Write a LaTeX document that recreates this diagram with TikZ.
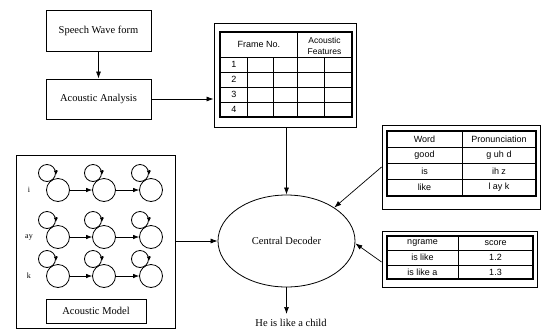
\documentclass[tikz,border=0pt]{standalone}
\usepackage{fontspec}
\setmainfont{Liberation Serif}
\setsansfont{Liberation Sans}
\usetikzlibrary{arrows.meta,calc,shapes.geometric}
\begin{document}
\begin{tikzpicture}[x=1pt,y=-1pt,
  box/.style={draw,line width=0.9pt,inner sep=0pt,font=\fontsize{10.5}{12}\selectfont},
  frame/.style={draw,line width=0.9pt,inner sep=0pt},
  grid/.style={line width=0.9pt},
  tabtxt/.style={font=\sffamily\fontsize{9}{11}\selectfont,inner sep=0pt},
  arr/.style={-{Latex[length=7pt,width=5pt]},line width=0.7pt},
  big/.style={circle,draw,line width=0.8pt,minimum size=23pt,inner sep=0pt},
  small/.style={circle,draw,line width=0.8pt,minimum size=17pt,inner sep=0pt},
  looparr/.style={-{Latex[length=4.5pt,width=4.5pt]},line width=0.8pt},
  hmmarr/.style={-{Latex[length=6pt,width=4.5pt]},line width=0.7pt},
  lbl/.style={font=\fontsize{8}{9}\selectfont,inner sep=0pt}
]
\useasboundingbox (0,0) rectangle (541,330);

% left column boxes
\node[box,minimum width=105pt,minimum height=41pt] (sw) at (98.5,30.5) {Speech Wave form};
\node[box,minimum width=105pt,minimum height=40pt] (aa) at (98.5,99) {Acoustic Analysis};
\draw[arr] (sw.south) -- (aa.north);

% frame table
\node[frame,minimum width=142pt,minimum height=104pt] (tb) at (285,75) {};
\draw[grid,line width=1.1pt] (220,32) rectangle (352,117);
\foreach \yy in {57,72,87,102} \draw[grid] (220,\yy) -- (352,\yy);
\foreach \xx in {247,273,324} \draw[grid] (\xx,57) -- (\xx,117);
\draw[grid] (297,32) -- (297,117);
\node[tabtxt] (fh) at (259,44.5) {Frame No.};
\node[tabtxt,align=center,font=\sffamily\fontsize{8.5}{11}\selectfont] (afh) at (324.5,45.5) {Acoustic\\Features};
\foreach \n/\yy in {1/64.5,2/79.5,3/94.5,4/109.5} \node[tabtxt] (r\n) at (234,\yy) {\n};
\draw[arr] (aa.east) -- (aa.east -| tb.west);

% central decoder
\node[ellipse,draw,line width=0.8pt,minimum width=137pt,minimum height=92pt,inner sep=0pt,font=\fontsize{10.5}{12}\selectfont] (dec) at (286.5,241) {Central Decoder};
\draw[arr] (tb.south -| dec.north) -- (dec.north);
\node[inner sep=0pt,font=\fontsize{10.5}{12}\selectfont] (out) at (291,323) {He is like a child};
\draw[arr] (dec.south) -- (dec.south |- 0,314) coordinate (oe);

% pronunciation table
\node[frame,minimum width=158pt,minimum height=84pt] (pr) at (461,167) {};
\draw[grid,line width=1.1pt] (387,131) rectangle (536,196);
\foreach \yy in {147,163,179} \draw[grid] (387,\yy) -- (536,\yy);
\draw[grid] (462,131) -- (462,196);
\node[tabtxt] (pw) at (424.5,139) {Word};
\node[tabtxt] (pp) at (499,139) {Pronunciation};
\node[tabtxt] (p1) at (424.5,155) {good};
\node[tabtxt] (p2) at (499,155) {g uh d};
\node[tabtxt] (p3) at (424.5,171) {is};
\node[tabtxt] (p4) at (499,171) {ih z};
\node[tabtxt] (p5) at (424.5,187.5) {like};
\node[tabtxt] (p6) at (499,187.5) {l ay k};
\draw[arr] (pr.west) -- (dec.35);

% ngram table
\node[frame,minimum width=155pt,minimum height=56pt] (ng) at (459.5,259) {};
\draw[grid,line width=1.1pt] (387,236) rectangle (533,279);
\foreach \yy in {250,265} \draw[grid] (387,\yy) -- (533,\yy);
\draw[grid] (458,236) -- (458,279);
\node[tabtxt] (n1) at (422.5,243) {ngrame};
\node[tabtxt] (n2) at (495.5,243) {score};
\node[tabtxt] (n3) at (422.5,257.5) {is like};
\node[tabtxt] (n4) at (495.5,257.5) {1.2};
\node[tabtxt] (n5) at (422.5,272) {is like a};
\node[tabtxt] (n6) at (495.5,272) {1.3};
\draw[arr] ($(ng.west)+(0,3)$) -- (dec.-2);

% acoustic model
\node[frame,minimum width=159pt,minimum height=173pt] (am) at (95.5,241.5) {};
\node[box,minimum width=100pt,minimum height=24pt] (aml) at (96,311) {Acoustic Model};
\draw[arr] (am.east |- dec.west) -- (dec.west);

\foreach \r/\yy/\t in {1/190/i,2/237/ay,3/276/k}{
  \node[lbl] (l\r) at (29,\yy) {\t};
  \foreach \c/\xx in {1/58,2/104,3/151}{
    \node[big] (b\r\c) at (\xx,\yy) {};
    \node[small] (s\r\c) at ($(b\r\c)+(-11,-17)$) {};
    \draw[looparr] ($(s\r\c.east)+(0,-3)$) -- ($(s\r\c.east)+(0,2)$);
  }
  \draw[hmmarr] (b\r1.east) -- (b\r2.west);
  \draw[hmmarr] (b\r2.east) -- (b\r3.west);
}
\end{tikzpicture}
\end{document}
